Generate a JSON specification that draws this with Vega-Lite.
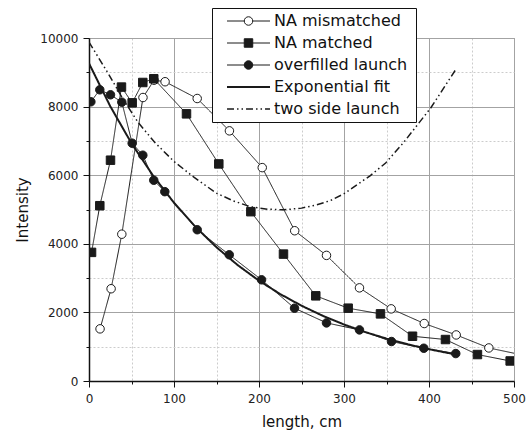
{
  "$schema": "https://vega.github.io/schema/vega-lite/v6.json",
  "width": 425,
  "height": 343,
  "autosize": {"type": "none"},
  "padding": {"left": 89, "top": 38, "right": 16, "bottom": 55},
  "background": "white",
  "config": {
    "font": "DejaVu Sans",
    "view": {"stroke": "#8a8a8a", "strokeWidth": 1},
    "axis": {
      "domainColor": "#111",
      "domainWidth": 1.5,
      "tickColor": "#111",
      "tickWidth": 1,
      "labelFontSize": 12,
      "labelColor": "#222",
      "titleFontSize": 15,
      "titleFontWeight": "normal",
      "titleColor": "#111",
      "labelFlush": false,
      "labelOverlap": false,
      "gridWidth": 1
    }
  },
  "datasets": {
    "d": [
      {"series": "NA mismatched", "x": 13, "y": 1520},
      {"series": "NA mismatched", "x": 26, "y": 2690},
      {"series": "NA mismatched", "x": 38.6, "y": 4280},
      {"series": "NA mismatched", "x": 63.5, "y": 8265},
      {"series": "NA mismatched", "x": 76.5, "y": 8770},
      {"series": "NA mismatched", "x": 89.5, "y": 8725},
      {"series": "NA mismatched", "x": 127.3, "y": 8236},
      {"series": "NA mismatched", "x": 165.2, "y": 7293},
      {"series": "NA mismatched", "x": 203.8, "y": 6221},
      {"series": "NA mismatched", "x": 242, "y": 4381},
      {"series": "NA mismatched", "x": 279.4, "y": 3662},
      {"series": "NA mismatched", "x": 318.2, "y": 2716},
      {"series": "NA mismatched", "x": 355.5, "y": 2103},
      {"series": "NA mismatched", "x": 394.4, "y": 1676},
      {"series": "NA mismatched", "x": 432, "y": 1343},
      {"series": "NA mismatched", "x": 470.4, "y": 964},
      {"series": "NA mismatched", "x": 508, "y": 768},
      {"series": "NA matched", "x": 3, "y": 3750},
      {"series": "NA matched", "x": 12.7, "y": 5110},
      {"series": "NA matched", "x": 25.3, "y": 6437},
      {"series": "NA matched", "x": 38.2, "y": 8569},
      {"series": "NA matched", "x": 50.8, "y": 8110},
      {"series": "NA matched", "x": 63.3, "y": 8703},
      {"series": "NA matched", "x": 76.2, "y": 8811},
      {"series": "NA matched", "x": 114.7, "y": 7789},
      {"series": "NA matched", "x": 152.7, "y": 6329},
      {"series": "NA matched", "x": 190.4, "y": 4936},
      {"series": "NA matched", "x": 228.8, "y": 3700},
      {"series": "NA matched", "x": 266.8, "y": 2483},
      {"series": "NA matched", "x": 304.9, "y": 2123},
      {"series": "NA matched", "x": 342.9, "y": 1957},
      {"series": "NA matched", "x": 380.6, "y": 1305},
      {"series": "NA matched", "x": 419.4, "y": 1209},
      {"series": "NA matched", "x": 457, "y": 771},
      {"series": "NA matched", "x": 495.5, "y": 584},
      {"series": "overfilled launch", "x": 2.2, "y": 8140},
      {"series": "overfilled launch", "x": 12.7, "y": 8490},
      {"series": "overfilled launch", "x": 25.3, "y": 8344},
      {"series": "overfilled launch", "x": 38.6, "y": 8130},
      {"series": "overfilled launch", "x": 50.8, "y": 6933},
      {"series": "overfilled launch", "x": 63.3, "y": 6583},
      {"series": "overfilled launch", "x": 76.2, "y": 5853},
      {"series": "overfilled launch", "x": 89.2, "y": 5520},
      {"series": "overfilled launch", "x": 127.3, "y": 4410},
      {"series": "overfilled launch", "x": 165, "y": 3680},
      {"series": "overfilled launch", "x": 203, "y": 2950},
      {"series": "overfilled launch", "x": 241.8, "y": 2123},
      {"series": "overfilled launch", "x": 279.4, "y": 1694},
      {"series": "overfilled launch", "x": 318.2, "y": 1490},
      {"series": "overfilled launch", "x": 355.9, "y": 1151},
      {"series": "overfilled launch", "x": 393.9, "y": 955},
      {"series": "overfilled launch", "x": 431.5, "y": 800},
      {"series": "Exponential fit", "x": 0, "y": 9260},
      {"series": "Exponential fit", "x": 25, "y": 8010},
      {"series": "Exponential fit", "x": 50, "y": 6930},
      {"series": "Exponential fit", "x": 75, "y": 6000},
      {"series": "Exponential fit", "x": 100, "y": 5196},
      {"series": "Exponential fit", "x": 125, "y": 4501},
      {"series": "Exponential fit", "x": 150, "y": 3899},
      {"series": "Exponential fit", "x": 175, "y": 3377},
      {"series": "Exponential fit", "x": 200, "y": 2925},
      {"series": "Exponential fit", "x": 225, "y": 2534},
      {"series": "Exponential fit", "x": 250, "y": 2195},
      {"series": "Exponential fit", "x": 275, "y": 1901},
      {"series": "Exponential fit", "x": 300, "y": 1647},
      {"series": "Exponential fit", "x": 325, "y": 1426},
      {"series": "Exponential fit", "x": 350, "y": 1236},
      {"series": "Exponential fit", "x": 375, "y": 1070},
      {"series": "Exponential fit", "x": 400, "y": 927},
      {"series": "Exponential fit", "x": 431, "y": 775},
      {"series": "two side launch", "x": 0, "y": 9880},
      {"series": "two side launch", "x": 23, "y": 8950},
      {"series": "two side launch", "x": 39, "y": 8260},
      {"series": "two side launch", "x": 58, "y": 7530},
      {"series": "two side launch", "x": 78, "y": 6940},
      {"series": "two side launch", "x": 100, "y": 6400},
      {"series": "two side launch", "x": 123, "y": 5950},
      {"series": "two side launch", "x": 150, "y": 5475},
      {"series": "two side launch", "x": 170, "y": 5250},
      {"series": "two side launch", "x": 190, "y": 5080},
      {"series": "two side launch", "x": 210, "y": 5010},
      {"series": "two side launch", "x": 229, "y": 4990},
      {"series": "two side launch", "x": 250, "y": 5040},
      {"series": "two side launch", "x": 268, "y": 5135},
      {"series": "two side launch", "x": 284, "y": 5260},
      {"series": "two side launch", "x": 300, "y": 5460},
      {"series": "two side launch", "x": 331, "y": 5990},
      {"series": "two side launch", "x": 349, "y": 6355},
      {"series": "two side launch", "x": 370, "y": 6950},
      {"series": "two side launch", "x": 402, "y": 7960},
      {"series": "two side launch", "x": 432, "y": 9100}
    ]
  },
  "data": {"name": "d"},
  "encoding": {
    "x": {
      "field": "x",
      "type": "quantitative",
      "scale": {"domain": [0, 500], "nice": false, "zero": false},
      "axis": {
        "title": "length, cm",
        "values": [0, 50, 100, 150, 200, 250, 300, 350, 400, 450, 500],
        "labelExpr": "datum.value % 100 === 0 ? datum.label : ''",
        "tickSize": {"condition": {"test": "datum.value % 100 === 0", "value": 6}, "value": 3},
        "gridColor": {"condition": {"test": "datum.value % 100 === 0", "value": "#a3a3a3"}, "value": "#cccccc"},
        "gridDash": {"condition": {"test": "datum.value % 100 === 0", "value": []}, "value": [2, 2]},
        "labelPadding": 6.5,
        "titlePadding": 10
      }
    },
    "y": {
      "field": "y",
      "type": "quantitative",
      "scale": {"domain": [0, 10000], "nice": false},
      "axis": {
        "title": "Intensity",
        "format": "d",
        "values": [0, 1000, 2000, 3000, 4000, 5000, 6000, 7000, 8000, 9000, 10000],
        "labelExpr": "datum.value % 2000 === 0 ? datum.label : ''",
        "tickSize": {"condition": {"test": "datum.value % 2000 === 0", "value": 6}, "value": 3},
        "gridColor": {"condition": {"test": "datum.value % 2000 === 0", "value": "#a3a3a3"}, "value": "#cccccc"},
        "gridDash": {"condition": {"test": "datum.value % 2000 === 0", "value": []}, "value": [2, 2]},
        "labelPadding": 5,
        "titlePadding": 9
      }
    }
  },
  "layer": [
    {
      "mark": {"type": "line", "clip": true, "color": "#1a1a1a"},
      "encoding": {
        "detail": {"field": "series", "type": "nominal"},
        "strokeWidth": {
          "field": "series",
          "type": "nominal",
          "scale": {
            "type": "ordinal",
            "domain": ["NA mismatched", "NA matched", "overfilled launch", "Exponential fit", "two side launch"],
            "range": [1, 1, 1, 2, 1.5]
          },
          "legend": {
            "title": null,
            "orient": "none",
            "legendX": 123,
            "legendY": -30,
            "zindex": 1,
            "fillColor": "white",
            "strokeColor": "#111",
            "padding": 5,
            "labelFontSize": 16,
            "labelColor": "#111",
            "labelOffset": 41,
            "rowPadding": 6,
            "symbolType": "M26,0M0.29,0H6.43",
            "symbolSize": 196,
            "symbolStrokeColor": "#1a1a1a"
          }
        },
        "strokeDash": {
          "field": "series",
          "type": "nominal",
          "scale": {
            "domain": ["NA mismatched", "NA matched", "overfilled launch", "Exponential fit", "two side launch"],
            "range": [[1, 0], [1, 0], [1, 0], [1, 0], [7, 3, 1.5, 3, 1.5, 3]]
          },
          "legend": {
            "title": null,
            "orient": "none",
            "legendX": 123,
            "legendY": -30,
            "zindex": 1,
            "fillColor": "white",
            "strokeColor": "#111",
            "padding": 5,
            "labelFontSize": 16,
            "labelColor": "#111",
            "labelOffset": 41,
            "rowPadding": 6,
            "symbolType": "M26,0M0.29,0H6.43",
            "symbolSize": 196,
            "symbolStrokeColor": "#1a1a1a"
          }
        }
      }
    },
    {
      "transform": [{"filter": "datum.series === 'NA mismatched' || datum.series === 'NA matched' || datum.series === 'overfilled launch'"}],
      "mark": {"type": "point", "filled": true, "strokeWidth": 1, "size": 72, "opacity": 1, "clip": true},
      "encoding": {
        "shape": {
          "field": "series",
          "type": "nominal",
          "scale": {
            "domain": ["NA mismatched", "NA matched", "overfilled launch"],
            "range": ["circle", "square", "circle"]
          },
          "legend": {
            "title": null,
            "orient": "none",
            "legendX": 123,
            "legendY": -30,
            "zindex": 2,
            "padding": 5,
            "labelFontSize": 16,
            "labelExpr": "''",
            "labelOffset": 4,
            "rowPadding": 6,
            "symbolSize": 72,
            "symbolOffset": 23.5,
            "symbolStrokeWidth": 1
          }
        },
        "fill": {
          "field": "series",
          "type": "nominal",
          "scale": {
            "domain": ["NA mismatched", "NA matched", "overfilled launch"],
            "range": ["white", "#1a1a1a", "#1a1a1a"]
          },
          "legend": {
            "title": null,
            "orient": "none",
            "legendX": 123,
            "legendY": -30,
            "zindex": 2,
            "padding": 5,
            "labelFontSize": 16,
            "labelExpr": "''",
            "labelOffset": 4,
            "rowPadding": 6,
            "symbolSize": 72,
            "symbolOffset": 23.5,
            "symbolStrokeWidth": 1
          }
        },
        "stroke": {
          "field": "series",
          "type": "nominal",
          "scale": {
            "domain": ["NA mismatched", "NA matched", "overfilled launch"],
            "range": ["#1a1a1a", "#1a1a1a", "#1a1a1a"]
          },
          "legend": {
            "title": null,
            "orient": "none",
            "legendX": 123,
            "legendY": -30,
            "zindex": 2,
            "padding": 5,
            "labelFontSize": 16,
            "labelExpr": "''",
            "labelOffset": 4,
            "rowPadding": 6,
            "symbolSize": 72,
            "symbolOffset": 23.5,
            "symbolStrokeWidth": 1
          }
        }
      }
    }
  ]
}
